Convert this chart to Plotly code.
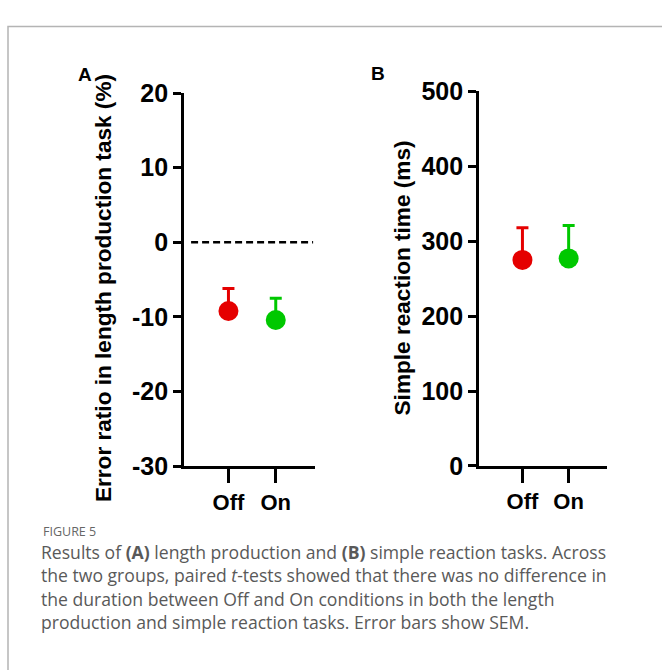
import plotly.graph_objects as go

# ---- data ----
categories = ["Off", "On"]
cat_pos = [1, 2]
colors = ["#e50000", "#00c800"]

a_means = [-9.2, -10.4]
a_sem = [3.0, 2.9]
a_ticks = [-30, -20, -10, 0, 10, 20]
a_ticktext = ["-30", "-20", "-10", "0", "10", "20"]
a_ref_y = 0
a_ref_x = [0.21, 2.79]

b_means = [275, 277]
b_sem = [43, 44]
b_ticks = [0, 100, 200, 300, 400, 500]
b_ticktext = ["0", "100", "200", "300", "400", "500"]

W, H = 662, 670
FAM = "Liberation Sans, Arial, sans-serif"
BOLD = dict(family=FAM, size=22, color="black", weight="bold")
TICKY = dict(family=FAM, size=25, color="black", weight="bold")

fig = go.Figure()

for i, cat in enumerate(categories):
    fig.add_trace(go.Scatter(
        x=[cat_pos[i]], y=[a_means[i]], mode="markers",
        marker=dict(size=20, color=colors[i]),
        error_y=dict(type="data", symmetric=False, array=[a_sem[i]], arrayminus=[0],
                     color=colors[i], thickness=3, width=6),
        xaxis="x", yaxis="y", showlegend=False))
    fig.add_trace(go.Scatter(
        x=[cat_pos[i]], y=[b_means[i]], mode="markers",
        marker=dict(size=20, color=colors[i]),
        error_y=dict(type="data", symmetric=False, array=[b_sem[i]], arrayminus=[0],
                     color=colors[i], thickness=3, width=6),
        xaxis="x2", yaxis="y2", showlegend=False))

fig.add_trace(go.Scatter(
    x=a_ref_x, y=[a_ref_y, a_ref_y], mode="lines",
    line=dict(color="black", width=2.5, dash="7px,4px"),
    xaxis="x", yaxis="y", showlegend=False, hoverinfo="skip"))

xcommon = dict(range=[0.06, 2.83], tickmode="array", tickvals=cat_pos, ticktext=categories,
               showline=True, linecolor="black", linewidth=2.7, ticks="outside",
               ticklen=14, tickwidth=2.7, tickcolor="black", showgrid=False, zeroline=False,
               tickfont=BOLD, fixedrange=True)
ycommon = dict(showline=True, linecolor="black", linewidth=2.7, ticks="outside",
               ticklen=8, tickwidth=2.7, tickcolor="black", showgrid=False, zeroline=False,
               tickfont=TICKY, tickmode="array", fixedrange=True)

fig.update_layout(
    width=W, height=H,
    margin=dict(l=0, r=0, t=0, b=0),
    paper_bgcolor="white", plot_bgcolor="white",
    xaxis=dict(xcommon, domain=[184 / W, 315 / W], anchor="y"),
    yaxis=dict(ycommon, domain=[1 - 472 / H, 1 - 82.5 / H], range=[-30, 20],
               tickvals=a_ticks, ticktext=a_ticktext, anchor="x"),
    xaxis2=dict(xcommon, domain=[479 / W, 607 / W], anchor="y2"),
    yaxis2=dict(ycommon, domain=[1 - 471.7 / H, 1 - 80.7 / H], range=[0, 500],
                tickvals=b_ticks, ticktext=b_ticktext, anchor="x2"),
)

# border
fig.add_shape(type="rect", xref="paper", yref="paper",
              x0=8 / W, x1=1.05, y0=-0.05, y1=1 - 13 / H,
              line=dict(color="#b4b4b4", width=1.5), fillcolor="rgba(0,0,0,0)", layer="below")

ann = []
ann.append(dict(text="Error ratio in length production task (%)", x=103 / W, y=1 - 286 / H,
                textangle=-90, font=dict(BOLD, size=22.6)))
ann.append(dict(text="Simple reaction time (ms)", x=402 / W, y=1 - 276 / H,
                textangle=-90, font=dict(BOLD, size=22.6)))
ann.append(dict(text="A", x=85 / W, y=1 - 63 / H, font=dict(BOLD, size=19)))
ann.append(dict(text="B", x=378 / W, y=1 - 62 / H, font=dict(BOLD, size=19)))

cap_font = dict(family="Open Sans, sans-serif", size=17.6, color="#595959")
ann.append(dict(text="FIGURE 5", x=41 / W, y=1 - 540.5 / H, xanchor="left",
                font=dict(family="Open Sans, sans-serif", size=12.5, color="#666666")))
lines = [
    "Results of <b>(A)</b> length production and <b>(B)</b> simple reaction tasks. Across",
    "the two groups, paired <i>t</i>-tests showed that there was no difference in",
    "the duration between Off and On conditions in both the length",
    "production and simple reaction tasks. Error bars show SEM.",
]
ys = [561.5, 585.8, 610.1, 634.4]
for t, yy in zip(lines, ys):
    ann.append(dict(text=t, x=39 / W, y=1 - yy / H, xanchor="left", font=cap_font))

for a in ann:
    a.setdefault("xanchor", "center")
    fig.add_annotation(dict(a, xref="paper", yref="paper", yanchor="middle", showarrow=False))

fig.write_html("out.html")
